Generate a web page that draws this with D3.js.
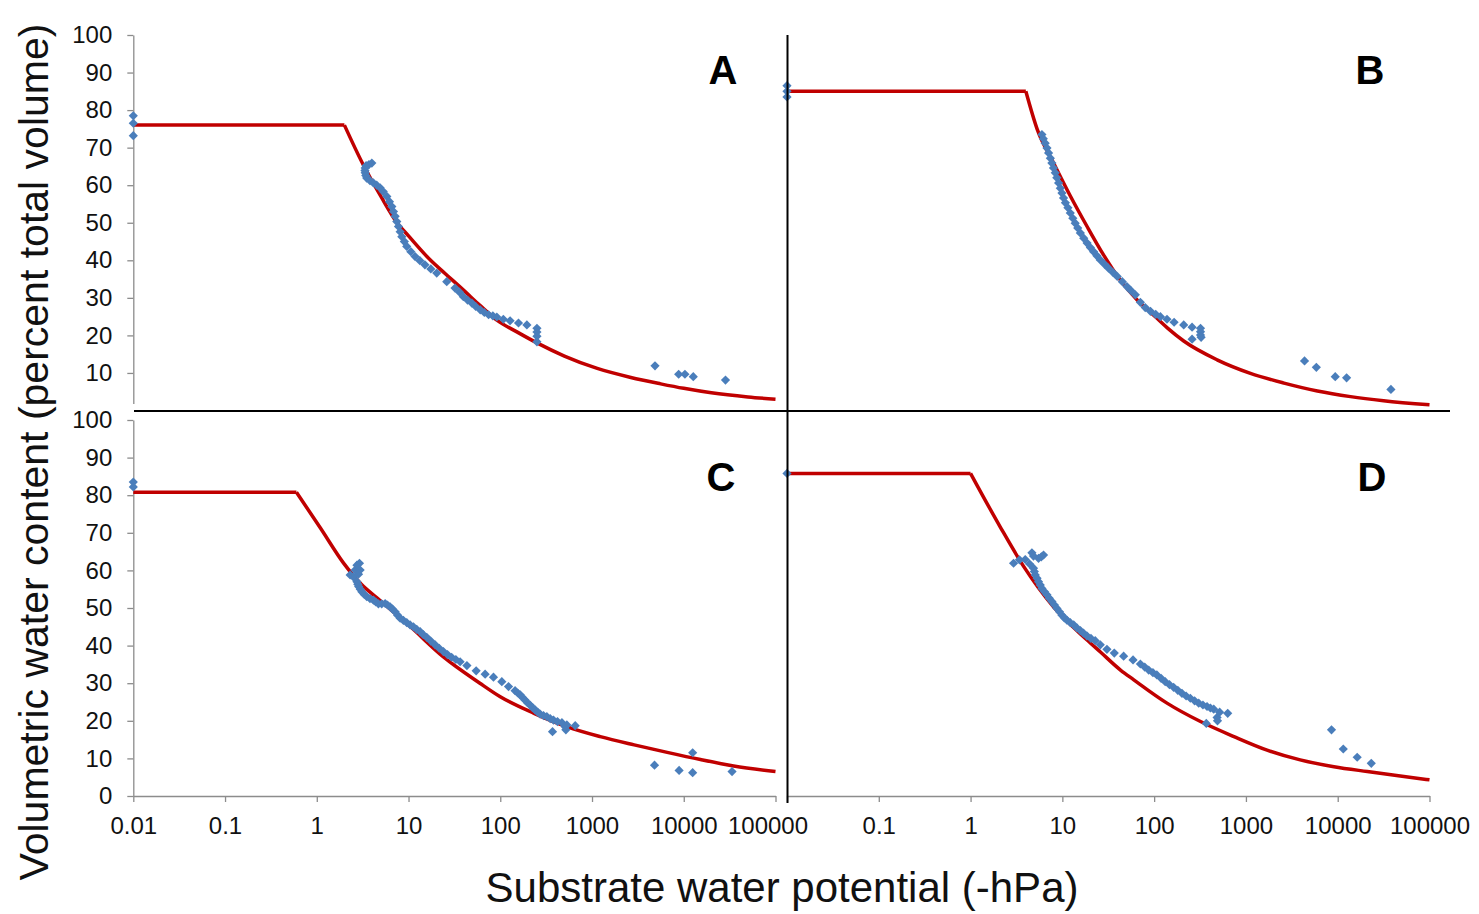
<!DOCTYPE html>
<html>
<head>
<meta charset="utf-8">
<script src="https://cdn.jsdelivr.net/npm/d3@7"></script>
<style>
  body { margin: 0; background: #fff; }
  text { font-family: "Liberation Sans", Arial, sans-serif; }
</style>
</head>
<body>
<script>
// water retention data, [potential (-hPa), volumetric water content (%)]
var xTicks = [0.01, 0.1, 1, 10, 100, 1000, 10000, 100000];
var yTicks = [0, 10, 20, 30, 40, 50, 60, 70, 80, 90, 100];

var curveA = [[0.01,76],[2,76],[3.2,65.5],[5,57],[7.5,50],[10,46.5],[17.4,40],[25,36.5],[40,32],[60,28],[92.5,24],[150,21],[251,18],[500,14.5],[1140,11.2],[2650,8.8],[5600,7.1],[10000,5.9],[20000,4.7],[50000,3.6],[100000,3]];
var pointsA = [[0.01,78.5],[0.01,76.5],[0.01,73.2],
  [3.98,65.9],[3.7,65.5],[3.45,65.2],[3.37,64.6],[3.35,63.9],[3.37,63.3],[3.42,62.6],[3.5,61.9],[3.8,61.2],[4.14,60.6],[4.5,60],[4.9,59.3],[5.3,58.3],[5.8,57],[6.2,55.6],[6.58,54.3],[6.85,53],[7.15,51.7],[7.45,50.3],[7.77,49],[8.1,47.6],[8.45,46.3],[9.0,45],[9.56,43.7],[10.6,42.3],[11.8,41],[13.3,39.9],[15.1,38.8],[17.5,37.7],[20.3,36.6],[26.1,34.3],[32.1,32.6],[36,31.5],[39.6,30.3],[44,29.4],[49,28.6],[54,27.7],[60.5,26.8],[67,26.1],[74.6,25.5],[83,25.2],[91.7,24.9],[108,24.3],[128,23.9],[158,23.3],[195,22.8],[251,21.9],[251,20.9],[251,19.8],[251,18.3],
  [4860,11.9],[8800,9.65],[10300,9.65],[12700,9.0],[28500,8.1]];

var curveB = [[0.01,85],[4,85],[5.3,75],[8,66],[12.3,57],[18.6,49],[28,41.5],[42,35],[65,29.5],[91,26.2],[139,22],[210,18.5],[485,13.5],[1120,9.9],[2600,7.3],[6000,5.2],[13800,3.7],[31600,2.6],[100000,1.5]];
var pointsB = [[0.01,86.5],[0.01,85],[0.01,83.5],
  [5.99,73.5],[6.2,72.4],[6.5,71.2],[6.8,69.9],[7.08,68.6],[7.4,67.2],[7.69,65.9],[8.0,64.6],[8.37,63.3],[8.7,62],[9.1,60.6],[9.5,59.2],[9.9,57.9],[10.3,56.6],[10.8,55.3],[11.5,54],[12.2,52.6],[13,51.2],[13.8,49.9],[14.7,48.6],[15.7,47.3],[17.1,45.9],[18.6,44.6],[20.2,43.4],[21.9,42.3],[23.8,41.2],[25.9,40.1],[28.7,39],[31.8,37.9],[35.5,36.8],[39.6,35.7],[45,34.3],[50.5,33],[56,31.9],[62.4,30.8],[70.8,28.8],[80,27.4],[91.2,26.4],[104,25.6],[117,25],[138,24.3],[165,23.5],[210,22.8],[259,22.2],[259,19],[320,21.9],[320,21],[320,20.1],[325,19.5],
  [4350,13.2],[5850,11.5],[9400,9.0],[12500,8.7],[38000,5.6]];

var curveC = [[0.01,80.8],[0.6,80.8],[1.1,71.2],[1.95,62],[3,56.5],[4.9,52],[10.5,45],[24,37],[60,30],[100,26.4],[233,22],[537,18.4],[1230,15.8],[2880,13.6],[6600,11.6],[15200,9.7],[35000,8],[100000,6.5]];
var pointsC = [[0.01,83.5],[0.01,82.2],
  [2.31,58.8],[2.5,58.3],[2.62,60.1],[2.74,61.4],[2.92,61.9],[2.97,60.1],[2.85,59],[2.74,57],[2.8,56.3],[2.86,55.7],[2.98,55],[3.1,54.3],[3.3,53.6],[3.51,53],[3.8,52.5],[4.14,52.1],[4.4,51.6],[4.7,51.1],[5.1,51.1],[5.56,51.2],[5.9,50.8],[6.3,50.3],[6.7,49.7],[7.15,49],[7.6,48.1],[8.1,47.3],[8.8,46.7],[9.57,46.1],[10.4,45.5],[11.3,45],[12.3,44.3],[13.4,43.7],[14.5,42.9],[15.8,42.2],[17.5,41.2],[19.5,40.2],[21.6,39.3],[24,38.4],[26.6,37.6],[29.5,36.9],[32.8,36.3],[36.5,35.7],[43.3,34.7],[54.6,33.3],[68.4,32.4],[84.3,31.6],[104,30.4],[123,29.1],[145,28],[155,27.4],[165,26.9],[175,26.2],[186,25.5],[198,24.8],[211,24.2],[225,23.5],[240,22.9],[256,22.3],[272,21.8],[296,21.4],[322,21.1],[350,20.6],[380,20.2],[420,19.8],[470,19.5],[532,18.9],[656,18.7],[371,17.1],[519,17.6],[510,18.4],
  [4800,8.2],[8900,6.8],[12500,11.5],[12500,6.2],[33600,6.5]];

var curveD = [[0.01,85.8],[1,85.8],[2.1,71.6],[3.8,61],[8,50.3],[18.6,41.5],[26,38.3],[43,33.5],[60,30.9],[138,24.7],[320,19.8],[740,15.8],[1700,12.2],[3900,9.6],[9100,7.8],[21000,6.5],[48000,5.3],[100000,4.3]];
var pointsD = [[0.01,85.8],
  [2.94,61.9],[3.41,62.8],[3.94,62.9],[4.66,64.7],[4.85,63.8],[5.5,63.2],[6.24,64.1],[5.9,63.6],[4.4,61.7],[4.85,60.6],[4.95,59.7],[5.07,58.8],[5.3,57.9],[5.5,57],[5.75,56.1],[5.99,55.2],[6.4,54.3],[6.79,53.5],[7.2,52.6],[7.7,51.7],[8.2,50.8],[8.73,49.9],[9.3,49],[9.9,48.1],[10.5,47.4],[11.2,46.8],[12.2,46.1],[13.3,45.5],[14.4,44.7],[15.7,44],[17,43.3],[18.5,42.6],[20.5,41.9],[22.8,41.3],[25.9,40.2],[30.6,39],[36.8,38],[46.5,37.2],[58.9,36.2],[70.8,35.1],[79,34.3],[87.2,33.5],[97,32.8],[107,32.2],[119,31.3],[132,30.4],[147,29.6],[163,28.9],[181,28.1],[201,27.3],[223,26.6],[248,26],[276,25.3],[306,24.7],[340,24.2],[377,23.8],[410,23.4],[446,23.1],[370,19.3],[485,20.9],[490,20],[517,22.3],[633,22],
  [8560,17.6],[11500,12.5],[16300,10.3],[23200,8.7]];

var svg = d3.select("body").append("svg")
  .attr("width", 1479)
  .attr("height", 914);

svg.append("rect").attr("width", 1479).attr("height", 914).attr("fill", "#fff");

var grey = "#8c8c8c";
var red = "#C00000";
var blue = "#4A7EBB";

function fmt(d) {
  if (d < 1) return String(d);
  return d3.format("d")(d);
}

function panel(p) {
  var x = d3.scaleLog().domain([0.01, 100000]).range([p.x0, p.x1]);
  var y = d3.scaleLinear().domain([0, 100]).range([p.y0, p.y1]);
  var g = svg.append("g");

  if (p.bg) {
    g.append("rect")
      .attr("x", p.bg[0]).attr("y", p.bg[1])
      .attr("width", p.bg[2]).attr("height", p.bg[3])
      .attr("fill", "#fff");
  }

  //y axis
  if (p.yAxis) {
    var ya = g.append("g")
      .attr("transform", "translate(" + p.x0 + ",0)")
      .call(d3.axisLeft(y).tickValues(yTicks).tickSize(6).tickSizeOuter(0).tickPadding(15)
        .tickFormat(function (d) {
          // bottom label of the upper panel is hidden under the lower one
          if (p.hideZero && d == 0) return "";
          return d;
        }));
    ya.select(".domain").attr("stroke", grey).attr("stroke-width", 1.3);
    ya.selectAll(".tick line").attr("stroke", grey).attr("stroke-width", 1.3);
    ya.selectAll(".tick text").attr("font-size", 24).attr("fill", "#111")
      .attr("font-family", "Liberation Sans, Arial, sans-serif");
  }

  //x axis
  if (p.xAxis) {
    var xa = g.append("g")
      .attr("transform", "translate(0," + p.y0 + ")")
      .call(d3.axisBottom(x).tickValues(xTicks).tickSize(6).tickSizeOuter(0).tickPadding(15)
        .tickFormat(function (d) {
          if (p.skipFirst && d == 0.01) return "";
          return fmt(d);
        }));
    xa.select(".domain").attr("stroke", grey).attr("stroke-width", 1.3);
    xa.selectAll(".tick line").attr("stroke", grey).attr("stroke-width", 1.3);
    xa.selectAll(".tick text").attr("font-size", 24).attr("fill", "#111")
      .attr("font-family", "Liberation Sans, Arial, sans-serif")
      .attr("dx", function (d) { return (p.shiftLast && d == 100000) ? -8 : 0; });
  }

  //fitted curve: flat part, then smooth drying branch
  var flat = p.curve.slice(0, 2);
  var drying = p.curve.slice(1);
  g.append("path")
    .datum(flat)
    .attr("d", d3.line().x(d => x(d[0])).y(d => y(d[1])))
    .attr("fill", "none")
    .attr("stroke", red)
    .attr("stroke-width", 3.5);
  g.append("path")
    .datum(drying)
    .attr("d", d3.line().curve(d3.curveMonotoneX).x(d => x(d[0])).y(d => y(d[1])))
    .attr("fill", "none")
    .attr("stroke", red)
    .attr("stroke-width", 3.5)
    .attr("stroke-linejoin", "round");

  //measured points
  g.append("g")
    .selectAll("path")
    .data(p.points)
    .join("path")
    .attr("transform", d => "translate(" + x(d[0]) + "," + y(d[1]) + ")")
    .attr("d", "M0,-4.6L4.6,0L0,4.6L-4.6,0Z")
    .attr("fill", blue);

  g.append("text")
    .attr("x", p.letter[0])
    .attr("y", p.letter[1])
    .attr("text-anchor", "middle")
    .attr("font-size", 40)
    .attr("font-weight", "bold")
    .text(p.id);
}

panel({ id: "A", curve: curveA, points: pointsA, x0: 133.3, x1: 775.5, y0: 410.5, y1: 35, yAxis: true, hideZero: true, xAxis: false, letter: [723, 84] });
panel({ id: "B", curve: curveB, points: pointsB, x0: 787, x1: 1429.5, y0: 410.5, y1: 35, yAxis: false, xAxis: false, letter: [1370, 84] });
panel({ id: "C", curve: curveC, points: pointsC, x0: 133.3, x1: 775.5, y0: 796, y1: 420, yAxis: true, xAxis: true, shiftLast: true, letter: [721, 491], bg: [60, 404, 722, 440] });
panel({ id: "D", curve: curveD, points: pointsD, x0: 787, x1: 1429.5, y0: 796, y1: 420, yAxis: false, xAxis: true, skipFirst: true, letter: [1372, 491] });

//dividing lines
svg.append("line")
  .attr("x1", 134).attr("x2", 1450)
  .attr("y1", 411).attr("y2", 411)
  .attr("stroke", "#000").attr("stroke-width", 2);
svg.append("line")
  .attr("x1", 787.5).attr("x2", 787.5)
  .attr("y1", 35).attr("y2", 803)
  .attr("stroke", "#000").attr("stroke-width", 2);

//axis titles
svg.append("text")
  .attr("transform", "translate(48,452) rotate(-90)")
  .attr("text-anchor", "middle")
  .attr("font-size", 41)
  .attr("fill", "#111")
  .text("Volumetric water content (percent total volume)");
svg.append("text")
  .attr("x", 782)
  .attr("y", 902)
  .attr("text-anchor", "middle")
  .attr("font-size", 42)
  .attr("fill", "#111")
  .text("Substrate water potential (-hPa)");
</script>
</body>
</html>
